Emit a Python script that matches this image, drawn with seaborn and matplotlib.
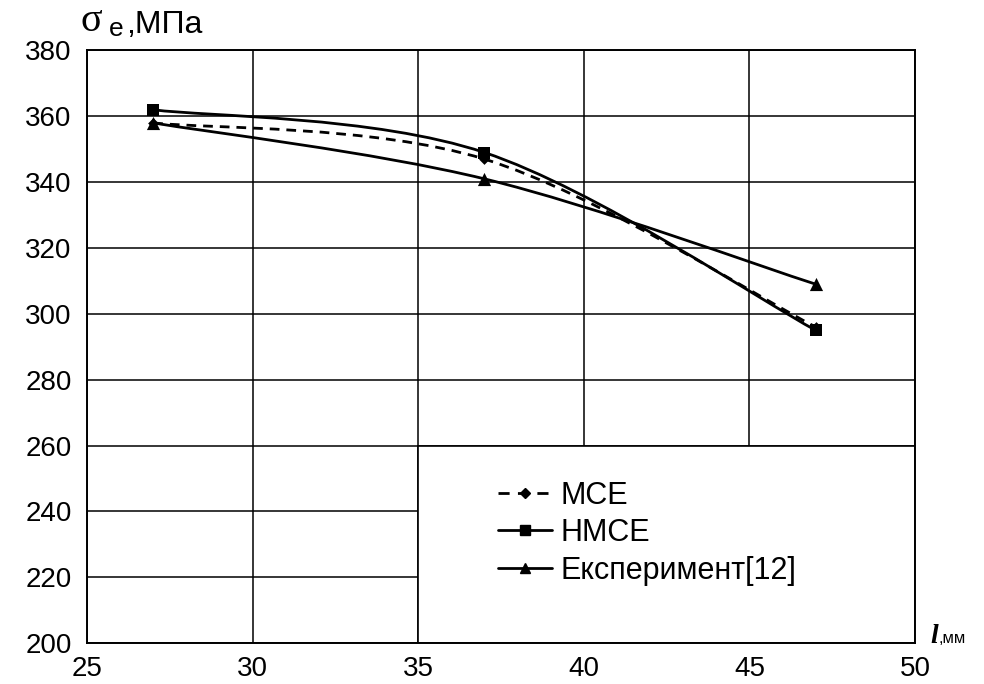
import numpy as np
import matplotlib
matplotlib.use("Agg")
import matplotlib.pyplot as plt
import seaborn as sns
from matplotlib.path import Path
from matplotlib.patches import PathPatch, Rectangle
from matplotlib.lines import Line2D

# data
x_len = [27.0, 37.0, 47.0]
mce = [358, 347, 296]
nmce = [362, 349, 295]
exper = [358, 341, 309]

labels = ["МСЕ", "НМСЕ", "Експеримент[12]"]
x_ticks = [25, 30, 35, 40, 45, 50]
y_ticks = [200, 220, 240, 260, 280, 300, 320, 340, 360, 380]

sns.set_style("white")
plt.rcParams['font.family'] = ['Liberation Sans', 'DejaVu Sans']
plt.rcParams['text.color'] = "black"

fig = plt.figure(figsize=(9.84, 6.84), dpi=100)
ax = fig.add_axes([0.0884, 0.0599, 0.8416, 0.8663])


def smooth_path(xs, ys):
    # excel-like smoothed line (catmull-rom bezier) through the points
    pts = np.column_stack([xs, ys]).astype(float)
    verts = [pts[0]]
    codes = [Path.MOVETO]
    n = len(pts)
    for i in range(n - 1):
        p_prev = pts[i - 1] if i > 0 else pts[i]
        p_next = pts[i + 2] if i + 2 < n else pts[i + 1]
        c1 = pts[i] + (pts[i + 1] - p_prev) / 6
        c2 = pts[i + 1] - (p_next - pts[i]) / 6
        verts += [c1, c2, pts[i + 1]]
        codes += [Path.CURVE4] * 3
    return Path(verts, codes)


dash = (0, (3.5, 2.5))
series = [
    (mce, dash, "D", 30),
    (nmce, "-", "s", 70),
    (exper, "-", "^", 90),
]
for ys, ls, mk, size in series:
    ax.add_patch(PathPatch(smooth_path(x_len, ys), facecolor="none",
                           edgecolor="black", lw=2, linestyle=ls, zorder=3))
    sns.scatterplot(x=x_len, y=ys, marker=mk, color="black", s=size,
                    edgecolor="black", linewidth=0, zorder=4, ax=ax)

ax.set_xlim(25, 50)
ax.set_ylim(200, 380)
ax.set_xticks(x_ticks)
ax.set_yticks(y_ticks)
ax.grid(True, color="black", lw=1.1)
ax.set_axisbelow(True)
for s in ax.spines.values():
    s.set_color("black")
    s.set_linewidth(1.4)
ax.tick_params(length=0, labelsize=20, colors="black")
ax.tick_params(axis="y", pad=11)
ax.tick_params(axis="x", pad=9)

# white legend box covering the lower right grid cells
ax.add_patch(Rectangle((35, 200), 15, 60, facecolor="white",
                       edgecolor="black", lw=1.2, zorder=2))

handles = [
    Line2D([], [], color="black", lw=2, ls=(0, (4, 3)), marker="D", markersize=5),
    Line2D([], [], color="black", lw=2, marker="s", markersize=7),
    Line2D([], [], color="black", lw=2, marker="^", markersize=7),
]
ax.legend(handles, labels, loc="upper left", bbox_to_anchor=(0.478, 0.3),
          frameon=False, fontsize=22, handlelength=1.75, handletextpad=0.3,
          labelspacing=0.25, borderpad=0, labelcolor="black")

# axis titles
fig.text(81 / 984, 1 - 31 / 684, "σ", fontsize=29, family="Liberation Serif")
fig.text(109 / 984, 1 - 36 / 684, "e", fontsize=19)
fig.text(126 / 984, 1 - 33 / 684, ",МПа", fontsize=23)
fig.text(930 / 984, 1 - 643 / 684, "l", fontsize=20, family="Liberation Serif",
         style="italic", weight="bold")
fig.text(939 / 984, 1 - 643 / 684, ",мм", fontsize=12)

fig.savefig("out.png", dpi=100)
